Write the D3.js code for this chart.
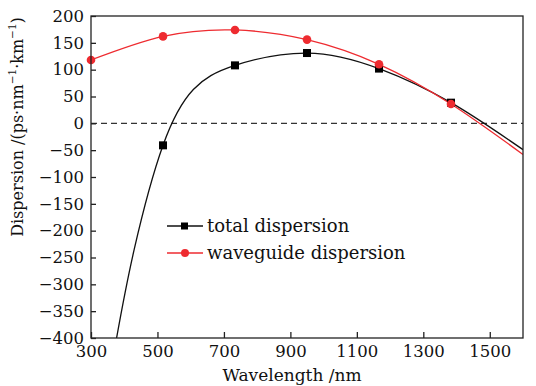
<!DOCTYPE html>
<html><head><meta charset="utf-8">
<script src="https://cdn.jsdelivr.net/npm/d3@7"></script>
<style>
html,body{margin:0;padding:0;background:#fff;}
svg text{font-family:"DejaVu Serif","Liberation Serif",serif;fill:#111;}
</style></head>
<body><svg id="c" width="536" height="386"></svg>
<script>
const xTicks = [300, 500, 700, 900, 1100, 1300, 1500];
const yTicks = [-400, -350, -300, -250, -200, -150, -100, -50, 0, 50, 100, 150, 200];
const markerX = [300, 516.7, 733.3, 950, 1166.7, 1383.3];
const waveguideMarkers = [118, 162, 174, 156, 110, 36];
const totalMarkerX = [516.7, 733.3, 950, 1166.7, 1383.3];
const totalMarkers = [-41, 108, 131, 102, 38.5];
const totalCurveX = [377, 430, 516.7, 608, 733.3, 950, 1166.7, 1383.3, 1600];
const totalCurveY = [-400, -235, -41, 63, 108, 131, 102, 38.5, -49];
const waveguideCurveX = [300, 516.7, 733.3, 950, 1166.7, 1383.3, 1600];
const waveguideCurveY = [118, 162, 174, 156, 110, 36, -58];
const seriesNames = ["total dispersion", "waveguide dispersion"];

const FONT = '"DejaVu Serif","Liberation Serif",serif';
const svg = d3.select("#c");
const L = 91, R = 523, T = 16, B = 338;
const x = d3.scaleLinear().domain([300, 1600]).range([L, R]);
const y = d3.scaleLinear().domain([-400, 200]).range([B, T]);
const red = "#ee2b30";

svg.append("clipPath").attr("id", "clip").append("rect")
  .attr("x", L).attr("y", T).attr("width", R - L).attr("height", B - T);

svg.append("line").attr("x1", L).attr("x2", R).attr("y1", y(0)).attr("y2", y(0))
  .attr("stroke", "#333").attr("stroke-width", 1.2).attr("stroke-dasharray", "6,4");

const line = d3.line().x(d => x(d[0])).y(d => y(d[1])).curve(d3.curveNatural);
const g = svg.append("g").attr("clip-path", "url(#clip)");
g.append("path").datum(totalCurveX.map((v, i) => [v, totalCurveY[i]]))
  .attr("d", line).attr("fill", "none").attr("stroke", "#111").attr("stroke-width", 1.3);
g.append("path").datum(waveguideCurveX.map((v, i) => [v, waveguideCurveY[i]]))
  .attr("d", line).attr("fill", "none").attr("stroke", red).attr("stroke-width", 1.3);

svg.selectAll(".sq").data(totalMarkerX.map((v, i) => [v, totalMarkers[i]])).join("rect")
  .attr("x", d => x(d[0]) - 4).attr("y", d => y(d[1]) - 4).attr("width", 8).attr("height", 8).attr("fill", "#000");
svg.selectAll(".ci").data(markerX.map((v, i) => [v, waveguideMarkers[i]])).join("circle")
  .attr("cx", d => x(d[0])).attr("cy", d => y(d[1])).attr("r", 4.3).attr("fill", red);

svg.append("rect").attr("x", L).attr("y", T).attr("width", R - L).attr("height", B - T)
  .attr("fill", "none").attr("stroke", "#222").attr("stroke-width", 1.3);

const xa = svg.append("g").attr("transform", `translate(0,${B})`)
  .call(d3.axisBottom(x).tickValues(xTicks).tickFormat(d3.format("d")).tickSizeInner(-6).tickSizeOuter(0).tickPadding(9));
const ya = svg.append("g").attr("transform", `translate(${L},0)`)
  .call(d3.axisLeft(y).tickValues(yTicks).tickSizeInner(-5).tickSizeOuter(0).tickPadding(7)
    .tickFormat(d => d < 0 ? "\u2212" + Math.abs(d) : String(d)));
[xa, ya].forEach(a => {
  a.attr("font-family", FONT).attr("font-size", 16.5);
  a.select(".domain").remove();
  a.selectAll("line").attr("stroke", "#222").attr("stroke-width", 1.3);
  a.selectAll("text").attr("fill", "#111");
});
xa.selectAll("text").attr("dy", "0.6em");

svg.append("text").attr("x", 292).attr("y", 381).attr("text-anchor", "middle")
  .attr("font-family", FONT).attr("font-size", 17).text("Wavelength /nm");

const yl = svg.append("text").attr("transform", "translate(23,127) rotate(-90)")
  .attr("text-anchor", "middle").attr("font-family", FONT).attr("font-size", 16);
yl.append("tspan").text("Dispersion /(ps\u00B7nm");
yl.append("tspan").attr("dy", -7).attr("font-size", 10.5).text("\u22121");
yl.append("tspan").attr("dy", 7).text("\u00B7km");
yl.append("tspan").attr("dy", -7).attr("font-size", 10.5).text("\u22121");
yl.append("tspan").attr("dy", 7).text(")");

const legColors = ["#111", red];
seriesNames.forEach((n, i) => {
  const ly = 226 + i * 27;
  svg.append("line").attr("x1", 167).attr("x2", 203).attr("y1", ly).attr("y2", ly)
    .attr("stroke", legColors[i]).attr("stroke-width", 1.3);
  if (i === 0) svg.append("rect").attr("x", 181).attr("y", ly - 3.5).attr("width", 7).attr("height", 7).attr("fill", "#000");
  else svg.append("circle").attr("cx", 185).attr("cy", ly).attr("r", 4).attr("fill", red);
  svg.append("text").attr("x", 207).attr("y", ly + 6).attr("font-family", FONT).attr("font-size", 18).text(n);
});
</script></body></html>
